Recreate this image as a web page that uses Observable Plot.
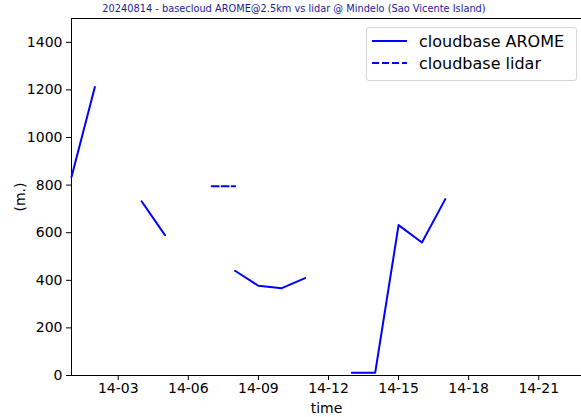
<!DOCTYPE html>
<html>
<head>
<meta charset="utf-8">
<script src="https://cdn.jsdelivr.net/npm/d3@7"></script>
<script src="https://cdn.jsdelivr.net/npm/@observablehq/plot@0.6"></script>
<style>
  html, body { margin: 0; padding: 0; background: #fff; }
  #wrap { position: relative; width: 581px; height: 417px; font-family: "DejaVu Sans", sans-serif; overflow: hidden; }
  #title { position: absolute; top: 3px; left: 0; width: 588px; text-align: center; font-size: 9.8px; color: #1a1a9c; white-space: nowrap; }
  #legend { position: absolute; left: 366px; top: 27px; width: 209px; height: 52px; border: 1px solid #d6d6d6; border-radius: 3px; background: rgba(255,255,255,0.8); font-size: 16px; color: #000; }
  .row { position: absolute; left: 0; height: 20px; display: flex; align-items: center; }
  .row svg { margin-left: 5px; }
  .row span { margin-left: 12px; }
  #chart { position: absolute; left: 0; top: 0; }
</style>
</head>
<body>
<div id="wrap">
  <div id="chart"></div>
  <div id="title">20240814 - basecloud AROME@2.5km vs lidar @ Mindelo (Sao Vicente Island)</div>
  <div id="legend">
    <div class="row" style="top:3px"><svg width="35" height="4"><line x1="0" y1="2" x2="35" y2="2" stroke="blue" stroke-width="2"/></svg><span>cloudbase AROME</span></div>
    <div class="row" style="top:25px"><svg width="35" height="4"><line x1="0" y1="2" x2="35" y2="2" stroke="blue" stroke-width="2" stroke-dasharray="7,3"/></svg><span>cloudbase lidar</span></div>
  </div>
</div>
<script>
// Data (hours of 2024-08-14, UTC)
const aromeHours = [1, 2, 3, 4, 5, 6, 7, 8, 9, 10, 11, 12, 13, 14, 15, 16, 17];
const aromeBase  = [834, 1212, null, 732, 590, null, null, 440, 377, 367, 409, null, 12, 12, 632, 559, 741];
const lidarHours = [7, 8];
const lidarBase  = [795, 795];
const xTickHours = [3, 6, 9, 12, 15, 18, 21];
const yTicks = [0, 200, 400, 600, 800, 1000, 1200, 1400];

const T = h => new Date(Date.UTC(2024, 7, 14, 0, 0) + h * 3600e3);
const arome = aromeHours.map((h, i) => ({t: T(h), v: aromeBase[i]}));
const lidar = lidarHours.map((h, i) => ({t: T(h), v: lidarBase[i]}));
const x0 = T(1), x1 = T(22.83);

const chart = Plot.plot({
  width: 581,
  height: 417,
  marginTop: 18,
  marginBottom: 42,
  marginLeft: 71,
  marginRight: 0,
  style: {fontFamily: "DejaVu Sans, sans-serif", fontSize: "14px", color: "#000", background: "#fff"},
  x: {type: "utc", domain: [x0, x1]},
  y: {domain: [0, 1500]},
  marks: [
    Plot.axisX({ticks: xTickHours.map(T), tickFormat: d3.utcFormat("%d-%H"), tickSize: 5, tickPadding: 3, label: "time", labelAnchor: "center", labelArrow: "none", labelOffset: 37}),
    Plot.axisY({ticks: yTicks, tickFormat: d => String(d), tickSize: 5, tickPadding: 4, label: "(m.)", labelAnchor: "center", labelArrow: "none", labelOffset: 56}),
    Plot.ruleX([x0], {stroke: "#000", strokeWidth: 1}),
    Plot.ruleY([0], {stroke: "#000", strokeWidth: 1}),
    Plot.ruleY([1500], {stroke: "#000", strokeWidth: 1}),
    Plot.line(arome, {x: "t", y: "v", stroke: "blue", strokeWidth: 2, defined: d => d.v != null}),
    Plot.line(lidar, {x: "t", y: "v", stroke: "blue", strokeWidth: 2, strokeDasharray: "7,3"})
  ]
});
document.getElementById("chart").appendChild(chart);
</script>
</body>
</html>
